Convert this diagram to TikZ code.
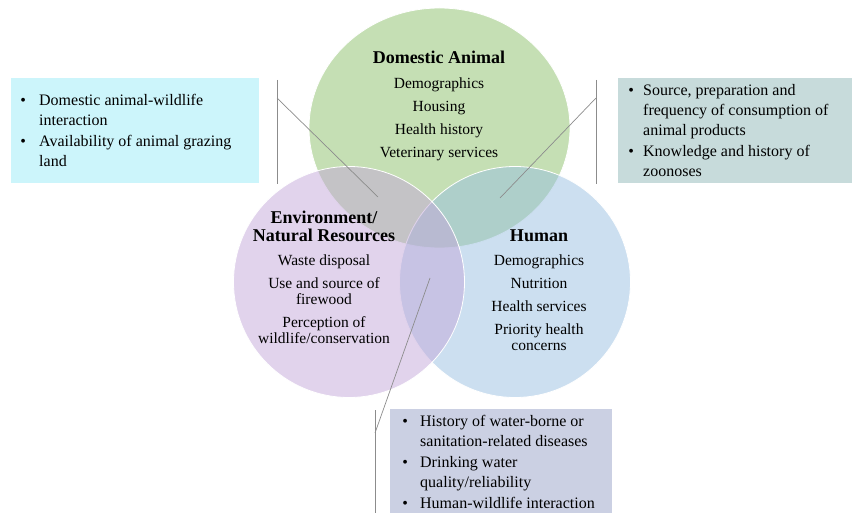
\documentclass[tikz,border=0pt]{standalone}
\usepackage{fontspec}
\setmainfont{Liberation Serif}
\usetikzlibrary{shapes.geometric}

\definecolor{animalgreen}{RGB}{139,191,105}
\definecolor{humanblue}{RGB}{153,191,225}
\definecolor{envpurple}{RGB}{195,167,217}
\definecolor{wildcyan}{RGB}{204,245,251}
\definecolor{foodteal}{RGB}{199,219,219}
\definecolor{waterslate}{RGB}{203,208,227}

\newcommand{\setfont}{\fontsize{15.5}{16}\selectfont}
\newcommand{\settitlefont}{\fontsize{18}{18}\selectfont\bfseries}
\newcommand{\listfont}{\fontsize{16}{20}\selectfont}

\begin{document}
\begin{tikzpicture}[x=1pt, y=-1pt,
        setcircle/.style={circle, draw=white, line width=0.8pt, fill opacity=0.5, minimum size=231pt, inner sep=0pt},
        settitle/.style={anchor=base, inner sep=0pt, font=\settitlefont},
        setitems/.style={anchor=base, inner sep=0pt, font=\setfont},
        listbox/.style={rectangle, anchor=north west, inner sep=0pt},
        listtext/.style={anchor=base west, inner sep=0pt, font=\listfont},
        callout/.style={draw=black!45, line width=0.7pt},
    ]
    \useasboundingbox (0,0) rectangle (852,513);

    % the three overlapping sets
    \node[setcircle, ellipse, fill=animalgreen, minimum width=261pt, minimum height=240pt] (animal) at (439.5,128) {};
    \node[setcircle, fill=humanblue] (human) at (515,282) {};
    \node[setcircle, fill=envpurple] (env)   at (349,282) {};

    \node[settitle] (animaltitle) at (439,64) {Domestic Animal};
    \node[setitems] (animalitems) at (439,89) {\begin{tabular}[t]{@{}c@{}}
        Demographics\\[7pt] Housing\\[7pt] Health history\\[7pt] Veterinary services
    \end{tabular}};

    \node[settitle] (envtitle) at (324,224) {\begin{tabular}[t]{@{}c@{}}
        Environment/\\ Natural Resources
    \end{tabular}};
    \node[setitems] (envitems) at (324,266) {\begin{tabular}[t]{@{}c@{}}
        Waste disposal\\[7pt] Use and source of\\ firewood\\[7pt] Perception of\\ wildlife/conservation
    \end{tabular}};

    \node[settitle] (humantitle) at (539,242) {Human};
    \node[setitems] (humanitems) at (539,266) {\begin{tabular}[t]{@{}c@{}}
        Demographics\\[7pt] Nutrition\\[7pt] Health services\\[7pt] Priority health\\ concerns
    \end{tabular}};

    % boxes for the overlaps
    \node[listbox, fill=wildcyan, minimum width=248pt, minimum height=105pt] (wildbox) at (11,78) {};
    \node[listtext] (wildlist) at (20.2,106) {\begin{tabular}[t]{@{}p{18.8pt}@{}l@{}}
        \textbullet & Domestic animal-wildlife\\
                    & interaction\\[1pt]
        \textbullet & Availability of animal grazing\\
                    & land
    \end{tabular}};

    \node[listbox, fill=foodteal, minimum width=234pt, minimum height=105pt] (foodbox) at (618,78) {};
    \node[listtext] (foodlist) at (628.2,96) {\begin{tabular}[t]{@{}p{14.8pt}@{}l@{}}
        \textbullet & Source, preparation and\\
                    & frequency of consumption of\\
                    & animal products\\[1pt]
        \textbullet & Knowledge and history of\\
                    & zoonoses
    \end{tabular}};

    \node[listbox, fill=waterslate, minimum width=222pt, minimum height=104pt] (waterbox) at (390,409) {};
    \node[listtext] (waterlist) at (402.2,426) {\begin{tabular}[t]{@{}p{17.8pt}@{}l@{}}
        \textbullet & History of water-borne or\\
                    & sanitation-related diseases\\[1pt]
        \textbullet & Drinking water\\
                    & quality/reliability\\[1pt]
        \textbullet & Human-wildlife interaction
    \end{tabular}};

    % callout lines
    \coordinate (wildtop)   at (277,80);
    \coordinate (wildfoot)  at (277,184);
    \coordinate (wildknee)  at (277,98);
    \coordinate (wildtip)   at (378,197);
    \coordinate (foodtop)   at (596,80);
    \coordinate (foodfoot)  at (596,184);
    \coordinate (foodknee)  at (596,98);
    \coordinate (foodtip)   at (500,198);
    \coordinate (watertop)  at (375,410);
    \coordinate (waterfoot) at (375,513);
    \coordinate (waterknee) at (375,433);
    \coordinate (watertip)  at (430,278);

    \draw[callout] (wildtop) -- (wildfoot);
    \draw[callout] (wildknee) -- (wildtip);
    \draw[callout] (foodtop) -- (foodfoot);
    \draw[callout] (foodknee) -- (foodtip);
    \draw[callout] (watertop) -- (waterfoot);
    \draw[callout] (waterknee) -- (watertip);
\end{tikzpicture}
\end{document}
